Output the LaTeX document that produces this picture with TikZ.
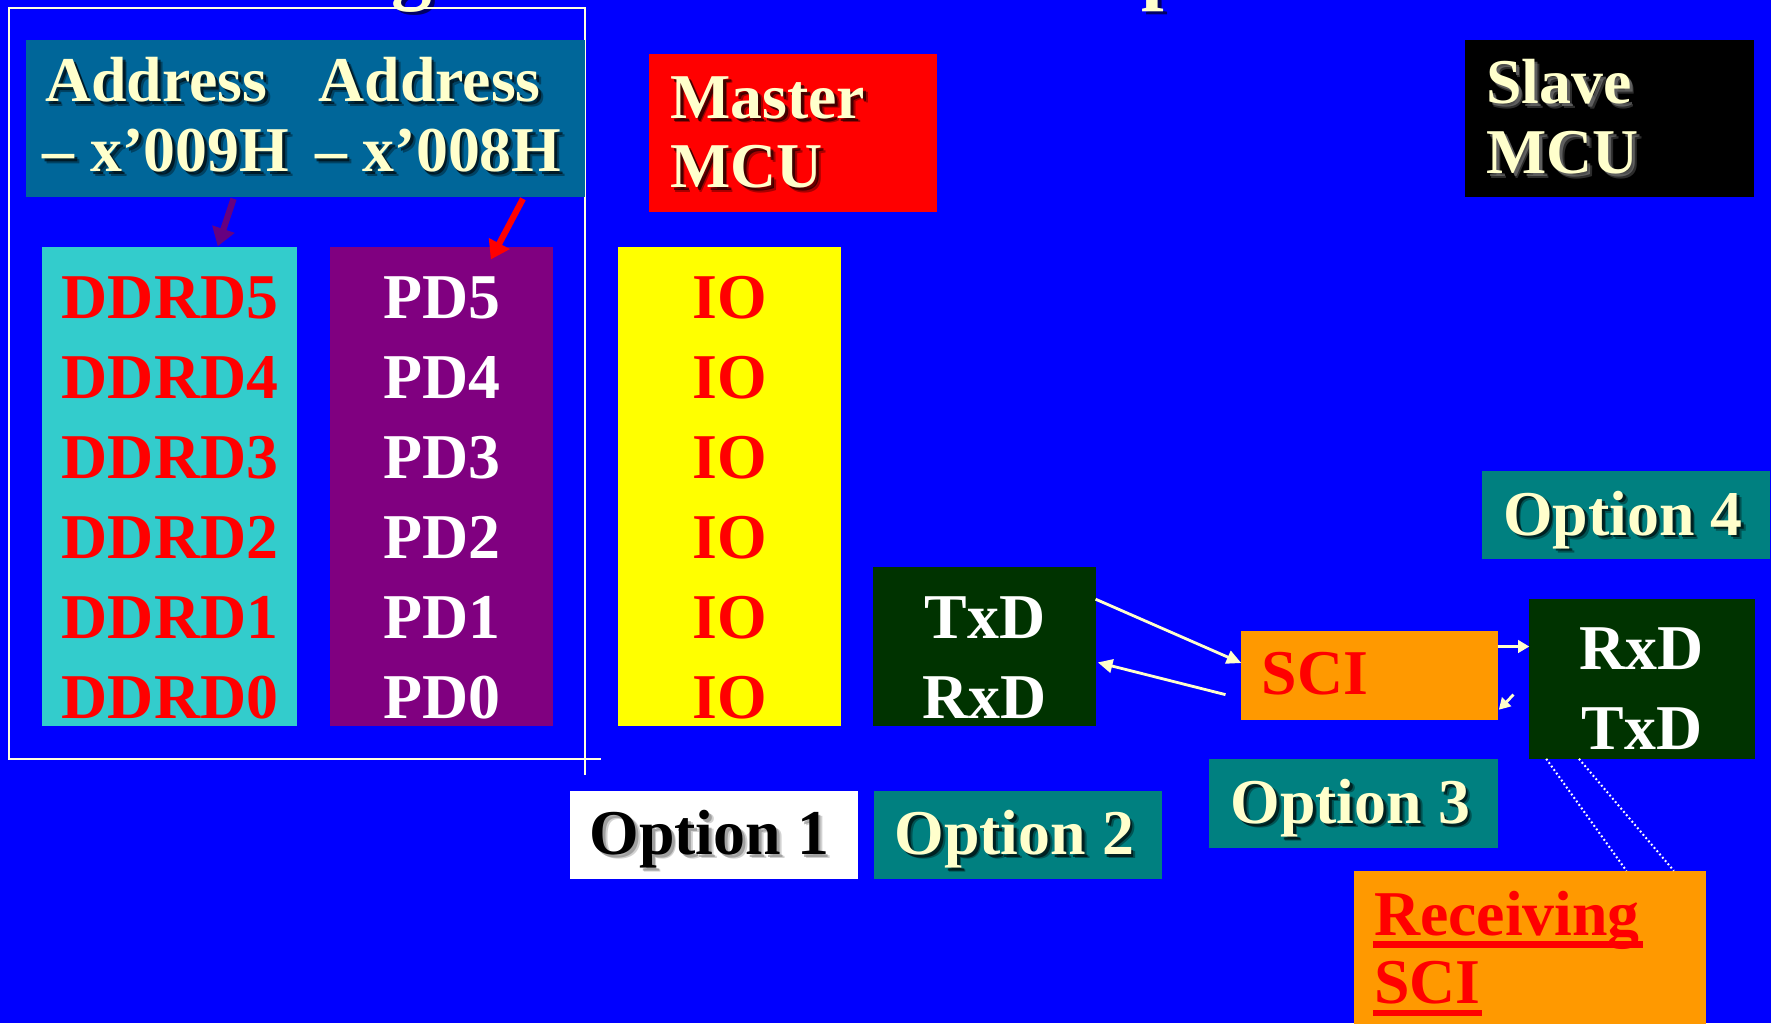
\documentclass[tikz,border=0pt]{standalone}
\usepackage{fontspec}
\setmainfont{Liberation Serif}
\usetikzlibrary{arrows.meta}

\definecolor{bgblue}{RGB}{0,0,255}
\definecolor{cream}{RGB}{255,255,204}
\definecolor{addrteal}{RGB}{0,102,153}
\definecolor{optteal}{RGB}{0,128,128}
\definecolor{regcyan}{RGB}{51,204,204}
\definecolor{portpurple}{RGB}{128,0,128}
\definecolor{ioyellow}{RGB}{255,255,0}
\definecolor{pinred}{RGB}{255,0,0}
\definecolor{pingreen}{RGB}{0,51,0}
\definecolor{sciorange}{RGB}{255,153,0}
\definecolor{arrowpurple}{RGB}{102,0,128}

% text with a soft drop shadow: name, x, y, colour, shadow colour, text
\newcommand{\ShadowLabel}[6]{%
  \node[big, anchor=base west, text=#5, text opacity=.35, xshift=4pt, yshift=-4pt] (#1s2) at (#2,#3) {#6};
  \node[big, anchor=base west, text=#5, text opacity=.6, xshift=2.5pt, yshift=-2.5pt] (#1s) at (#2,#3) {#6};
  \node[big, anchor=base west, text=#4] (#1) at (#2,#3) {#6};}

\begin{document}
\begin{tikzpicture}[x=1pt,y=-1pt,
  box/.style={rectangle, draw=none, inner sep=0pt, outer sep=0pt},
  big/.style={font=\fontsize{56.5}{60}\selectfont\bfseries, inner sep=0pt, outer sep=0pt},
  titlefnt/.style={font=\fontsize{72}{80}\selectfont\bfseries, inner sep=0pt, outer sep=0pt},
  framelines/.style={draw=cream!60!white, line width=2pt},
  fatarrow/.style={line width=5.5pt, -{Triangle[length=16pt,width=20pt]}},
  carrow/.style={draw=cream, line width=2.5pt, -{Triangle[length=13pt,width=12pt]}},
  smallarrow/.style={draw=cream, line width=2.5pt, -{Triangle[length=10pt,width=11pt]}},
  dotline/.style={draw=white, line width=1.8pt, dash pattern=on 1.6pt off 2.2pt}]

% background
\useasboundingbox (0,0) rectangle (1568,906);
\fill[bgblue] (0,0) rectangle (1568,906);

% title line, set above the top edge
\node[titlefnt, anchor=base, text=black, text opacity=.6, xshift=3pt, yshift=-3pt] (tgs) at (365,-5) {g};
\node[titlefnt, anchor=base, text=cream] (tg) at (365,-5) {g};
\node[titlefnt, anchor=base west, text=black, text opacity=.6, xshift=3pt, yshift=-3pt] (tps) at (1011,-5) {p};
\node[titlefnt, anchor=base west, text=cream] (tp) at (1011,-5) {p};

% frame round the port D registers
\draw[framelines] (518,686) -- (518,7) -- (8,7) -- (8,672) -- (532,672);

% address box
\node[box, fill=addrteal, minimum width=495pt, minimum height=139pt] (addr) at (270.5,104.5) {};
\ShadowLabel{addrA}{40}{90}{cream}{black}{Address}
\ShadowLabel{addrB}{38}{152}{cream}{black}{– x’009H}
\ShadowLabel{addrC}{282}{90}{cream}{black}{Address}
\ShadowLabel{addrD}{279}{152}{cream}{black}{– x’008H}

% register columns
\node[box, fill=regcyan, minimum width=226pt, minimum height=424pt] (ddrd) at (150,431) {};
\node[box, fill=portpurple, minimum width=198pt, minimum height=424pt] (pd) at (391,431) {};
\node[box, fill=ioyellow, minimum width=198pt, minimum height=424pt] (io) at (646,431) {};
\foreach \n/\yy in {5/282,4/352.8,3/423.6,2/494.4,1/565.2,0/636}{
  \node[big, anchor=base, text=pinred] (ddrd\n) at (150.5,\yy) {DDRD\n};
  \node[big, anchor=base, text=white] (pd\n) at (391,\yy) {PD\n};
  \node[big, anchor=base, text=pinred] (io\n) at (646,\yy) {IO};
}

% address arrows
\draw[fatarrow, draw=arrowpurple] ([xshift=-63.7pt,yshift=-2pt]addr.south) -- ([xshift=42.8pt,yshift=1pt]ddrd.north);
\draw[fatarrow, draw=pinred] ([xshift=192.5pt,yshift=-2pt]addr.south) -- ([xshift=43.6pt,yshift=-10.7pt]pd.north);

% master and slave
\node[box, fill=pinred, minimum width=255pt, minimum height=140pt] (master) at (702.5,118) {};
\ShadowLabel{masterA}{593.5}{104.8}{cream}{black}{Master}
\ShadowLabel{masterB}{593.5}{166.3}{cream}{black}{MCU}
\node[box, fill=black, minimum width=256pt, minimum height=139pt] (slave) at (1425,104.5) {};
\ShadowLabel{slaveA}{1316}{91.7}{cream}{gray}{Slave}
\ShadowLabel{slaveB}{1316}{153.8}{cream}{gray}{MCU}

% serial pins
\node[box, fill=pingreen, minimum width=197pt, minimum height=141pt] (txbox) at (871.5,572.5) {};
\node[big, anchor=base, text=white] (txA) at (872,565) {TxD};
\node[big, anchor=base, text=white] (txB) at (872,635.8) {RxD};
\node[box, fill=sciorange, minimum width=227pt, minimum height=79pt] (scibox) at (1212.5,598) {};
\node[big, anchor=base west, text=pinred] (sci) at (1117,615) {SCI};
\node[box, fill=pingreen, minimum width=199.5pt, minimum height=141.3pt] (rxbox) at (1453.8,601.2) {};
\node[big, anchor=base, text=white] (rxA) at (1453.6,593) {RxD};
\node[big, anchor=base, text=white] (rxB) at (1453.6,663.8) {TxD};

% serial connections
\draw[carrow] ([yshift=42pt]txbox.east) -- ([yshift=11pt]scibox.west);
\draw[carrow] ([xshift=-14pt,yshift=-17pt]scibox.west) -- ([xshift=2pt,yshift=-14pt]txbox.east);
\draw[smallarrow] ([yshift=25.6pt]scibox.east) -- ([yshift=25.6pt]scibox.east -| rxbox.west);
\draw[smallarrow] ([xshift=14pt,yshift=-17pt]scibox.east) -- ([xshift=1pt,yshift=-30.4pt]scibox.east);

% option labels
\node[box, fill=white, minimum width=255pt, minimum height=78.3pt] (opt1) at (632,739.5) {};
\ShadowLabel{opt1t}{522}{756.4}{black}{gray}{Option 1}
\node[box, fill=optteal, minimum width=255pt, minimum height=78.3pt] (opt2) at (901,739.5) {};
\ShadowLabel{opt2t}{792}{756.4}{cream}{black}{Option 2}
\node[box, fill=optteal, minimum width=255.5pt, minimum height=78.5pt] (opt3) at (1198.3,711.2) {};
\ShadowLabel{opt3t}{1089.5}{729}{cream}{black}{Option 3}
\node[box, fill=optteal, minimum width=255pt, minimum height=78.2pt] (opt4) at (1439.6,456.1) {};
\ShadowLabel{opt4t}{1331}{473.7}{cream}{black}{Option 4}

% receiving SCI
\node[box, fill=sciorange, minimum width=311pt, minimum height=160pt] (recvbox) at (1354.5,851) {};
\node[big, anchor=base west, text=pinred] (recvA) at (1216.5,828) {Receiving};
\node[big, anchor=base west, text=pinred] (recvB) at (1216.5,888.4) {SCI};
\fill[pinred] ([xshift=-1pt,yshift=-5pt]recvA.base west) rectangle ([xshift=3pt,yshift=-11pt]recvA.base east);
\fill[pinred] ([xshift=-1pt,yshift=-5.5pt]recvB.base west) rectangle ([xshift=1pt,yshift=-11.5pt]recvB.base east);
\draw[dotline] ([xshift=-84.8pt]rxbox.south) -- ([xshift=85.5pt]recvbox.north);
\draw[dotline] ([xshift=-55.8pt]rxbox.south) -- ([xshift=127.5pt]recvbox.north);

\end{tikzpicture}
\end{document}
